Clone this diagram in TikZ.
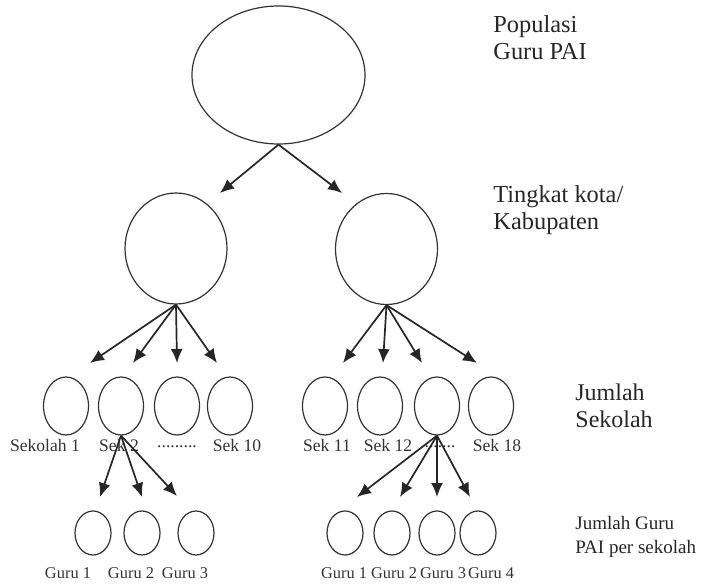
\documentclass[tikz,border=0pt]{standalone}
\usepackage{fontspec}
\setmainfont{Liberation Serif}
\usetikzlibrary{shapes.geometric,arrows.meta}
\tikzset{
  oval/.style={draw=black!80,line width=0.6pt,ellipse,inner sep=0pt},
  arr/.style={draw=black!85,line width=0.85pt,-{Latex[length=7pt,width=6pt]}},
  lvl/.style={anchor=west,align=left,text=black!85,inner sep=0pt,font=\fontsize{12.2}{13.5}\selectfont},
  sek/.style={text=black!80,inner sep=0pt,font=\fontsize{8.8}{10}\selectfont},
  guru/.style={text=black!80,inner sep=0pt,font=\fontsize{8.2}{9}\selectfont}
}
\begin{document}
\begin{tikzpicture}[x=0.5pt,y=-0.5pt]
  \useasboundingbox (0,0) rectangle (722,583);
  % populasi dan kota/kabupaten
  \node[oval,minimum width=86.5pt,minimum height=69pt] (pop) at (278.5,75) {};
  \node[oval,minimum width=51pt,minimum height=55.5pt] (kab1) at (176,248.5) {};
  \node[oval,minimum width=51pt,minimum height=55.5pt] (kab2) at (386.5,249) {};
  % sekolah
  \node[oval,minimum width=22.5pt,minimum height=29pt] (sek1) at (66,406) {};
  \node[oval,minimum width=22.5pt,minimum height=29pt] (sek2) at (121,406) {};
  \node[oval,minimum width=22.5pt,minimum height=29pt] (sek3) at (177,406) {};
  \node[oval,minimum width=22.5pt,minimum height=29pt] (sek4) at (230,406) {};
  \node[oval,minimum width=22.5pt,minimum height=29pt] (sek5) at (325,406) {};
  \node[oval,minimum width=22.5pt,minimum height=29pt] (sek6) at (380,406) {};
  \node[oval,minimum width=22.5pt,minimum height=29pt] (sek7) at (437,406) {};
  \node[oval,minimum width=22.5pt,minimum height=29pt] (sek8) at (491,406) {};
  \node[sek] (lsek1) at (45,445) {Sekolah 1};
  \node[sek] (lsek2) at (119,445) {Sek 2};
  \node[sek] (lsek3) at (177,447) {.........};
  \node[sek] (lsek4) at (237,445) {Sek 10};
  \node[sek] (lsek5) at (327,445) {Sek 11};
  \node[sek] (lsek6) at (388,445) {Sek 12};
  \node[sek] (lsek7) at (440,447) {.......};
  \node[sek] (lsek8) at (497,445) {Sek 18};
  % guru
  \node[oval,minimum width=18pt,minimum height=22pt] (g1) at (93,533) {};
  \node[oval,minimum width=18pt,minimum height=22pt] (g2) at (142,533) {};
  \node[oval,minimum width=18pt,minimum height=22pt] (g3) at (196,533) {};
  \node[oval,minimum width=18pt,minimum height=22pt] (g4) at (345,533) {};
  \node[oval,minimum width=18pt,minimum height=22pt] (g5) at (392,533) {};
  \node[oval,minimum width=18pt,minimum height=22pt] (g6) at (437,533) {};
  \node[oval,minimum width=18pt,minimum height=22pt] (g7) at (478,533) {};
  \node[guru] (lg1) at (68,573) {Guru 1};
  \node[guru] (lg2) at (131,573) {Guru 2};
  \node[guru] (lg3) at (185,573) {Guru 3};
  \node[guru] (lg4) at (344,573) {Guru 1};
  \node[guru] (lg5) at (394,573) {Guru 2};
  \node[guru] (lg6) at (443,573) {Guru 3};
  \node[guru] (lg7) at (491,573) {Guru 4};
  % keterangan tingkat
  \node[lvl] (tpop) at (493,38) {Populasi\\Guru PAI};
  \node[lvl] (tkab) at (493,210) {Tingkat kota/\\Kabupaten};
  \node[lvl,font=\fontsize{12}{13.5}\selectfont] (tsek) at (575,406) {Jumlah\\Sekolah};
  \node[lvl,font=\fontsize{9.5}{12}\selectfont] (tguru) at (575,537) {Jumlah Guru\\PAI per sekolah};
  % ujung panah
  \coordinate (t1) at (220,193);
  \coordinate (t2) at (342,193);
  \coordinate (a1) at (90,363);
  \coordinate (a2) at (133,363);
  \coordinate (a3) at (177,363);
  \coordinate (a4) at (217,363);
  \coordinate (a5) at (343,363);
  \coordinate (a6) at (383,363);
  \coordinate (a7) at (422,363);
  \coordinate (a8) at (477,363);
  \coordinate (b1) at (100,497);
  \coordinate (b2) at (142,497);
  \coordinate (b3) at (177,496);
  \coordinate (b4) at (357,497);
  \coordinate (b5) at (400,497);
  \coordinate (b6) at (437,497);
  \coordinate (b7) at (470,497);
  \draw[arr] (pop.south) -- (t1);
  \draw[arr] (pop.south) -- (t2);
  \draw[arr] (kab1.south) -- (a1);
  \draw[arr] (kab1.south) -- (a2);
  \draw[arr] (kab1.south) -- (a3);
  \draw[arr] (kab1.south) -- (a4);
  \draw[arr] (kab2.south) -- (a5);
  \draw[arr] (kab2.south) -- (a6);
  \draw[arr] (kab2.south) -- (a7);
  \draw[arr] (kab2.south) -- (a8);
  \draw[arr] (sek2.south) -- (b1);
  \draw[arr] (sek2.south) -- (b2);
  \draw[arr] (sek2.south) -- (b3);
  \draw[arr] (sek7.south) -- (b4);
  \draw[arr] (sek7.south) -- (b5);
  \draw[arr] (sek7.south) -- (b6);
  \draw[arr] (sek7.south) -- (b7);
\end{tikzpicture}
\end{document}
